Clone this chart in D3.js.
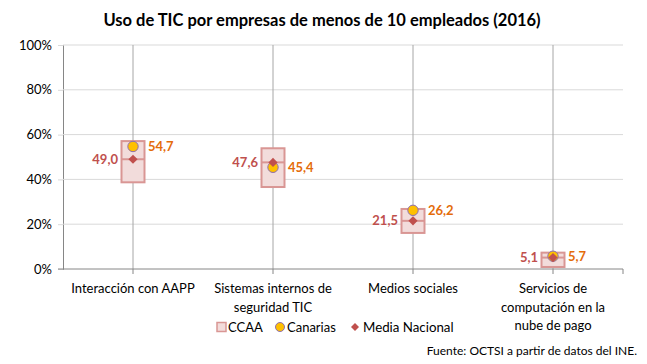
<!DOCTYPE html>
<html>
<head>
<meta charset="utf-8">
<script src="https://cdn.jsdelivr.net/npm/d3@7"></script>
<style>
  html, body { margin: 0; padding: 0; background: #fff; }
  svg { display: block; font-family: Lato, "Open Sans", sans-serif; }
</style>
</head>
<body>
<svg id="chart" width="647" height="364"></svg>
<script>
// ---- data ----
const categories = ["Interacción con AAPP", "Sistemas internos de\nseguridad TIC", "Medios sociales", "Servicios de\ncomputación en la\nnube de pago"];
const ccaaMin = [38.7, 36.6, 16.1, 0.9];
const ccaaMax = [57.1, 53.9, 26.8, 7.3];
const canarias = [54.7, 45.4, 26.2, 5.7];
const mediaNacional = [49.0, 47.6, 21.5, 5.1];
const yTicks = [0, 20, 40, 60, 80, 100];
const legendLabels = ["CCAA", "Canarias", "Media Nacional"];
const titleText = "Uso de TIC por empresas de menos de 10 empleados (2016)";
const sourceText = "Fuente:  OCTSI a partir de datos del INE.";

// ---- layout ----
const svg = d3.select("#chart");
const plotL = 63, plotR = 623, plotT = 45, plotB = 269;
const x = d3.scaleBand().domain(categories).range([plotL, plotR]).paddingInner(0).paddingOuter(0);
const y = d3.scaleLinear().domain([0, 100]).range([plotB, plotT]);
const cx = c => x(c) + x.bandwidth() / 2;
const fmt = v => v.toFixed(1).replace(".", ",");

const boxFill = "#f2dcdb", boxStroke = "#d99694";
const circFill = "#ffc000", circStroke = "#8e6fb0";
const diaColor = "#c0504d", canColor = "#e46c0a";

// title
svg.append("text").attr("x", 322).attr("y", 26).attr("text-anchor", "middle")
  .attr("font-size", 16.5).attr("font-weight", "bold").attr("fill", "#000").text(titleText);

// gridlines + y axis
const yAxis = d3.axisLeft(y).tickValues(yTicks).tickFormat(d => d + "%").tickSize(5);
const gy = svg.append("g").attr("transform", `translate(${plotL},0)`).call(yAxis);
gy.select(".domain").attr("stroke", "#868686");
gy.selectAll(".tick line").attr("stroke", "#d9d9d9");
gy.selectAll(".tick text").attr("font-size", 13).attr("fill", "#000").attr("font-family", "Lato, sans-serif").attr("x", -11);

svg.append("g").selectAll("line").data(yTicks.filter(d => d > 0)).join("line")
  .attr("x1", plotL).attr("x2", plotR).attr("y1", d => y(d)).attr("y2", d => y(d))
  .attr("stroke", "#d9d9d9").attr("stroke-width", 1);

// vertical high-low lines at category centers
svg.append("g").selectAll("line").data(categories).join("line")
  .attr("x1", d => cx(d)).attr("x2", d => cx(d)).attr("y1", y(100)).attr("y2", y(0))
  .attr("stroke", "#a6a6a6").attr("stroke-width", 1);

// x axis
const gx = svg.append("g").attr("transform", `translate(0,${plotB})`);
gx.append("line").attr("x1", plotL - 5).attr("x2", plotR).attr("y1", 0).attr("y2", 0).attr("stroke", "#868686");
gx.selectAll("line.tk").data(categories).join("line").attr("class", "tk")
  .attr("x1", d => cx(d)).attr("x2", d => cx(d)).attr("y1", 0).attr("y2", 5).attr("stroke", "#868686");
gx.append("line").attr("x1", plotR).attr("x2", plotR).attr("y1", 0).attr("y2", 5).attr("stroke", "#868686");

// category labels
categories.forEach(c => {
  const lines = c.split("\n");
  const t = svg.append("text").attr("text-anchor", "middle").attr("font-size", 13).attr("fill", "#000");
  lines.forEach((l, i) => t.append("tspan").attr("x", cx(c)).attr("y", 293 + i * 18.5).text(l));
});

// boxes
const bw = 23;
const boxes = svg.append("g");
categories.forEach((c, i) => {
  boxes.append("rect").attr("x", cx(c) - bw / 2).attr("y", y(ccaaMax[i]))
    .attr("width", bw).attr("height", y(ccaaMin[i]) - y(ccaaMax[i]))
    .attr("fill", boxFill).attr("stroke", boxStroke).attr("stroke-width", 2);
  boxes.append("line").attr("x1", cx(c) - bw / 2).attr("x2", cx(c) + bw / 2)
    .attr("y1", y(mediaNacional[i])).attr("y2", y(mediaNacional[i]))
    .attr("stroke", boxStroke).attr("stroke-width", 2);
});

// markers
const diamond = h => `M0,${-h}L${h},0L0,${h}L${-h},0Z`;
categories.forEach((c, i) => {
  svg.append("circle").attr("cx", cx(c)).attr("cy", y(canarias[i])).attr("r", 5.2)
    .attr("fill", circFill).attr("stroke", circStroke).attr("stroke-width", 1);
});
categories.forEach((c, i) => {
  svg.append("path").attr("d", diamond(4.6)).attr("transform", `translate(${cx(c)},${y(mediaNacional[i])})`)
    .attr("fill", diaColor);
});

// value labels
categories.forEach((c, i) => {
  svg.append("text").attr("x", cx(c) + 15).attr("y", y(canarias[i])).attr("dy", "0.35em")
    .attr("font-size", 13).attr("font-weight", "bold").attr("fill", canColor).text(fmt(canarias[i]));
  svg.append("text").attr("x", cx(c) - 15).attr("y", y(mediaNacional[i])).attr("dy", "0.35em")
    .attr("text-anchor", "end").attr("font-size", 13).attr("font-weight", "bold").attr("fill", diaColor).text(fmt(mediaNacional[i]));
});

// legend
const lg = svg.append("g").attr("transform", "translate(0,327)");
lg.append("rect").attr("x", 217).attr("y", -4.5).attr("width", 9).attr("height", 9)
  .attr("fill", boxFill).attr("stroke", boxStroke).attr("stroke-width", 1.5);
lg.append("text").attr("x", 228).attr("dy", "0.35em").attr("font-size", 13).text(legendLabels[0]);
lg.append("circle").attr("cx", 280).attr("cy", 0).attr("r", 4.5).attr("fill", circFill).attr("stroke", circStroke);
lg.append("text").attr("x", 287).attr("dy", "0.35em").attr("font-size", 13).text(legendLabels[1]);
lg.append("path").attr("d", diamond(4)).attr("transform", "translate(355,0)").attr("fill", diaColor);
lg.append("text").attr("x", 363).attr("dy", "0.35em").attr("font-size", 13.3).text(legendLabels[2]);

// source
svg.append("text").attr("x", 637).attr("y", 351).attr("dy", "0.35em").attr("text-anchor", "end")
  .attr("font-size", 12).attr("fill", "#000").text(sourceText);
</script>
</body>
</html>
